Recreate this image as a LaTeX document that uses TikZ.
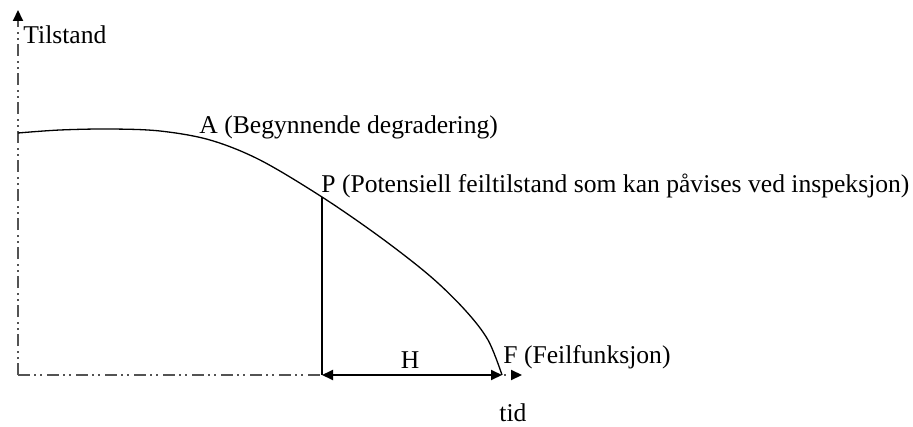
\documentclass[tikz,border=0pt]{standalone}
\usepackage{fontspec}
\setmainfont{Liberation Serif}
\usetikzlibrary{arrows.meta}

\begin{document}
\begin{tikzpicture}[x=0.5pt, y=-0.5pt, >={Triangle[length=5.5pt, width=5pt, color=black]},
    axis/.style={line width=1pt, gray!65!black, dash pattern=on 6pt off 2pt on 1pt off 2pt on 1pt off 2.5pt},
    tag/.style={font=\fontsize{12.8}{15}\selectfont, inner sep=0pt, anchor=west}]
    \useasboundingbox (0,0) rectangle (913,427);

    % Coordinates
    \coordinate (O) at (18,375);
    \coordinate (Ytop) at (18,10);
    \coordinate (Xend) at (522,375);
    \coordinate (S) at (18,133);
    \coordinate (P) at (322,197);
    \coordinate (Pfoot) at (322,375);
    \coordinate (F) at (502,375);

    % Axes
    \draw[axis, ->] (O) -- (Ytop);
    \draw[axis, ->] (O) -- (Xend);

    % Degradation curve
    \draw[line width=0.65pt] plot[smooth, tension=0.55] coordinates {(S) (60,130) (110,129) (160,131) (210,140) (260,160) (P) (380,237) (430,276) (465,310) (488,340) (F)};
    \draw[line width=0.75pt] (P) -- (Pfoot);
    \draw[line width=0.9pt, <->] (Pfoot) -- (F);

    % Labels
    \node[tag] (tilstand) at (23,35) {Tilstand};
    \node[tag] (labA) at (199,127) {A (Begynnende degradering)};
    \node[tag] (labP) at (321,186) {P (Potensiell feiltilstand som kan påvises ved inspeksjon)};
    \node[tag] (labF) at (503,357) {F (Feilfunksjon)};
    \node[tag, anchor=center] (labH) at (410,360) {H};
    \node[tag, anchor=center] (tid) at (513,413) {tid};
\end{tikzpicture}
\end{document}
